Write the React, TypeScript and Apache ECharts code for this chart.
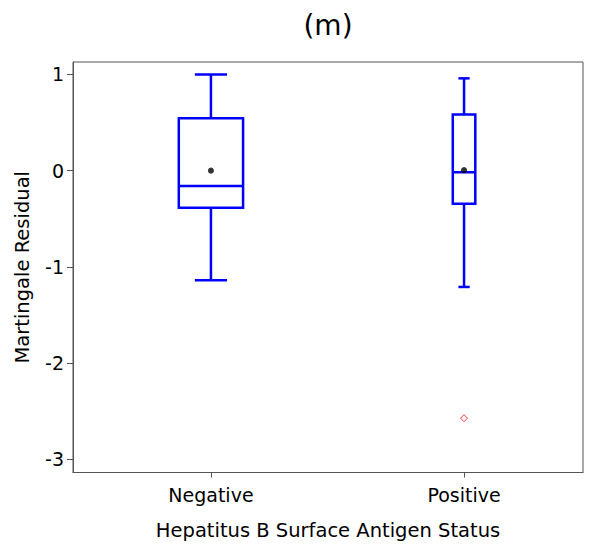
import React, { useEffect, useRef } from "react";
import * as echarts from "echarts";

// Group labels along the x axis (placed at x = 1, 2, ...)
const categories = ["Negative", "Positive"];

// Five-number summaries per group: [min whisker, Q1, median, Q3, max whisker]
const lowWhisker = [-1.14, -1.21];
const q1 = [-0.385, -0.345];
const median = [-0.16, -0.017];
const q3 = [0.545, 0.585];
const highWhisker = [1.0, 0.96];
const means = [0.0, 0.005];

// Outlying observations: [group position, value]
const outliers: [number, number][] = [[2, -2.575]];

const yTicks = [-3, -2, -1, 0, 1];

const FONT = "DejaVu Sans";
const BOX_BLUE = "#0000ff";
// box width per group, in x-axis units
const boxWidthUnits = [0.254, 0.089];

export default function App() {
  const ref = useRef<HTMLDivElement>(null);

  useEffect(() => {
    if (!ref.current) return;
    document.body.style.margin = "0";
    const chart = echarts.init(ref.current, null, { renderer: "svg" });

    const boxData = categories.map((_, i) => [
      i + 1,
      lowWhisker[i],
      q1[i],
      median[i],
      q3[i],
      highWhisker[i],
      i,
    ]);

    chart.setOption({
      animation: false,
      backgroundColor: "#ffffff",
      title: {
        text: "(m)",
        left: 323,
        textAlign: "center",
        top: 6,
        textStyle: { fontFamily: FONT, fontSize: 28, fontWeight: "normal", color: "#000" },
      },
      grid: {
        left: 73,
        top: 62,
        right: 14,
        bottom: 75.5,
        outerBoundsMode: "none",
        containLabel: false,
        show: true,
        borderColor: "#555",
        borderWidth: 1,
        backgroundColor: "transparent",
      },
      xAxis: {
        type: "value",
        min: 0.455,
        max: 2.47,
        name: "Hepatitus B Surface Antigen Status",
        nameLocation: "middle",
        nameGap: 48,
        nameTextStyle: { fontFamily: FONT, fontSize: 19.5, color: "#000" },
        splitLine: { show: false },
        axisLine: { show: true, onZero: false, lineStyle: { color: "#555", width: 1 } },
        axisTick: { show: true, length: 5, customValues: [1, 2], lineStyle: { color: "#555" } },
        axisLabel: {
          customValues: [1, 2],
          margin: 13,
          fontFamily: FONT,
          fontSize: 19,
          color: "#000",
          formatter: (v: number) => categories[Math.round(v) - 1] ?? "",
        },
      },
      yAxis: {
        type: "value",
        min: -3.14,
        max: 1.13,
        name: "Martingale Residual",
        nameLocation: "middle",
        nameGap: 41,
        nameTextStyle: { fontFamily: FONT, fontSize: 19.5, color: "#000" },
        splitLine: { show: false },
        axisLine: { show: true, onZero: false, lineStyle: { color: "#555", width: 1 } },
        axisTick: { show: true, length: 6, customValues: yTicks, lineStyle: { color: "#555" } },
        axisLabel: {
          customValues: yTicks,
          margin: 9,
          fontFamily: FONT,
          fontSize: 19,
          color: "#000",
        },
      },
      series: [
        {
          type: "custom",
          data: boxData,
          encode: { x: 0, y: [1, 2, 3, 4, 5] },
          renderItem: (params: any, api: any) => {
            const x = api.value(0);
            const idx = api.value(6);
            const half = api.size([boxWidthUnits[idx], 0])[0] / 2;
            const capHalf = half / 2;
            const pLow = api.coord([x, api.value(1)]);
            const pQ1 = api.coord([x, api.value(2)]);
            const pMed = api.coord([x, api.value(3)]);
            const pQ3 = api.coord([x, api.value(4)]);
            const pHigh = api.coord([x, api.value(5)]);
            const style = { stroke: BOX_BLUE, lineWidth: 2.5, fill: null };
            const cx = pQ1[0];
            return {
              type: "group",
              children: [
                { type: "line", shape: { x1: cx, y1: pLow[1], x2: cx, y2: pQ1[1] }, style },
                { type: "line", shape: { x1: cx, y1: pQ3[1], x2: cx, y2: pHigh[1] }, style },
                { type: "line", shape: { x1: cx - capHalf, y1: pLow[1], x2: cx + capHalf, y2: pLow[1] }, style },
                { type: "line", shape: { x1: cx - capHalf, y1: pHigh[1], x2: cx + capHalf, y2: pHigh[1] }, style },
                {
                  type: "rect",
                  shape: { x: cx - half, y: pQ3[1], width: half * 2, height: pQ1[1] - pQ3[1] },
                  style: { stroke: BOX_BLUE, lineWidth: 2.5, fill: "transparent" },
                },
                { type: "line", shape: { x1: cx - half, y1: pMed[1], x2: cx + half, y2: pMed[1] }, style },
              ],
            };
          },
          z: 2,
        },
        {
          type: "scatter",
          data: means.map((m, i) => [i + 1, m]),
          symbol: "circle",
          symbolSize: 6,
          itemStyle: { color: "#000" },
          z: 3,
        },
        {
          type: "scatter",
          data: outliers,
          symbol: "diamond",
          symbolSize: 7,
          itemStyle: { color: "transparent", borderColor: "#ff0000", borderWidth: 1 },
          z: 3,
        },
      ],
    });

    return () => chart.dispose();
  }, []);

  return <div ref={ref} style={{ width: 597, height: 548 }} />;
}
